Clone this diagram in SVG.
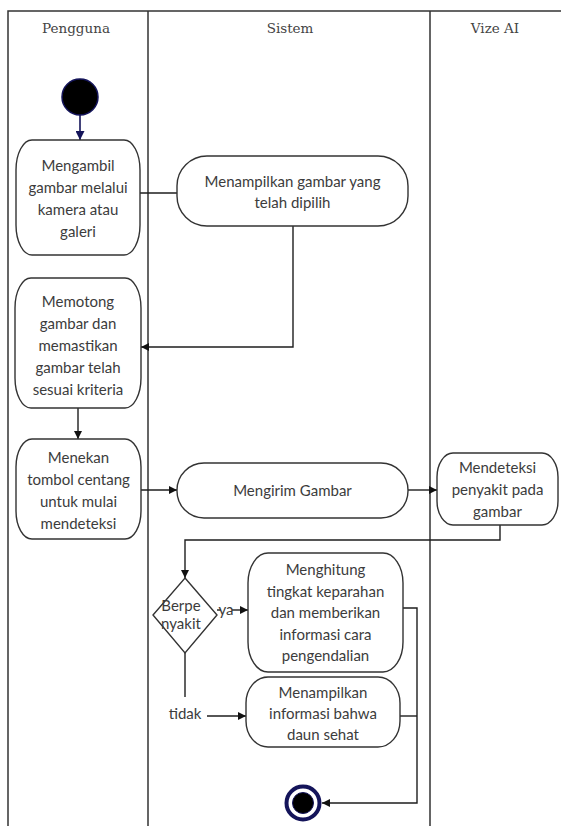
<svg xmlns="http://www.w3.org/2000/svg" width="561" height="826" viewBox="0 0 561 826">
<style>
.lane{stroke:#333;stroke-width:1.5;fill:none}
.hdr{font-family:"DejaVu Serif","Liberation Serif",serif;font-size:13.5px;fill:#444;text-anchor:middle}
.node{fill:#fff;stroke:#333;stroke-width:1.4}
.t{font-family:Lato,"Open Sans",sans-serif;font-size:15px;fill:#3c3c3c;text-anchor:middle;dominant-baseline:central}
.c{stroke:#1e1e1e;stroke-width:1.4;fill:none}
</style>
<defs>
<marker id="ah" viewBox="0 0 10 10" refX="10" refY="5" markerWidth="8" markerHeight="8" markerUnits="userSpaceOnUse" orient="auto">
<path d="M0,0 L10,5 L0,10 z" fill="#111"/>
</marker>
<marker id="ahn" viewBox="0 0 10 10" refX="10" refY="5" markerWidth="9" markerHeight="9" markerUnits="userSpaceOnUse" orient="auto">
<path d="M0,0 L10,5 L0,10 z" fill="#14145a"/>
</marker>
</defs>
<rect width="561" height="826" fill="#fff"/>
<g id="lanes">
<path class="lane" d="M8,826 V11 H561 M148,11 V826 M430,11 V826"/>
<text class="hdr" x="76" y="33">Pengguna</text>
<text class="hdr" x="290" y="33">Sistem</text>
<text class="hdr" x="495" y="33">Vize AI</text>
</g>
<g id="connectors">
<path d="M80,115 V140" stroke="#14145a" stroke-width="1.6" fill="none" marker-end="url(#ahn)"/>
<path class="c" d="M140,193 H177"/>
<path class="c" d="M293,226 V347 H141" marker-end="url(#ah)"/>
<path class="c" d="M78,408 V439" marker-end="url(#ah)"/>
<path class="c" d="M141,490 H177" marker-end="url(#ah)"/>
<path class="c" d="M408,490 H437" marker-end="url(#ah)"/>
<path class="c" d="M500,525 V540 H185 V578" marker-end="url(#ah)"/>
<path class="c" d="M217,610 H221"/>
<path class="c" d="M232,610 H248" marker-end="url(#ah)"/>
<path class="c" d="M185,653 V697"/>
<path class="c" d="M207,716 H246" marker-end="url(#ah)"/>
<path class="c" d="M403,608 H417 V803 H322" marker-end="url(#ah)"/>
<path class="c" d="M400,716 H417"/>
<text class="t" x="226" y="609">ya</text>
<text class="t" x="185" y="713">tidak</text>
</g>
<g id="start">
<circle cx="80" cy="97" r="18" fill="#000" stroke="#14145a" stroke-width="1.5"/>
</g>
<g id="n1">
<rect class="node" x="16" y="140" width="124" height="115" rx="16" ry="30"/>
<text class="t" x="78" y="164.5">Mengambil</text>
<text class="t" x="78" y="186.5">gambar melalui</text>
<text class="t" x="78" y="208.5">kamera atau</text>
<text class="t" x="78" y="230.5">galeri</text>
</g>
<g id="n2">
<rect class="node" x="177" y="156" width="231" height="70" rx="30" ry="30"/>
<text class="t" x="292.5" y="181">Menampilkan gambar yang</text>
<text class="t" x="292.5" y="202">telah dipilih</text>
</g>
<g id="n3">
<rect class="node" x="15" y="278" width="126" height="130" rx="16" ry="30"/>
<text class="t" x="78" y="301">Memotong</text>
<text class="t" x="78" y="323">gambar dan</text>
<text class="t" x="78" y="345">memastikan</text>
<text class="t" x="78" y="367">gambar telah</text>
<text class="t" x="78" y="389">sesuai kriteria</text>
</g>
<g id="n4">
<rect class="node" x="16" y="439" width="125" height="100" rx="16" ry="28"/>
<text class="t" x="78.5" y="457">Menekan</text>
<text class="t" x="78.5" y="479">tombol centang</text>
<text class="t" x="78.5" y="501">untuk mulai</text>
<text class="t" x="78.5" y="523">mendeteksi</text>
</g>
<g id="n5">
<rect class="node" x="177" y="463" width="231" height="55" rx="27" ry="27"/>
<text class="t" x="292.5" y="490">Mengirim Gambar</text>
</g>
<g id="n6">
<rect class="node" x="437" y="453" width="121" height="72" rx="16" ry="24"/>
<text class="t" x="497.5" y="467">Mendeteksi</text>
<text class="t" x="497.5" y="489">penyakit pada</text>
<text class="t" x="497.5" y="511">gambar</text>
</g>
<g id="decision">
<path class="node" d="M185,578 L217,615 L185,653 L153,615 Z"/>
<text class="t" x="181" y="605">Berpe</text>
<text class="t" x="181" y="623">nyakit</text>
</g>
<g id="n7">
<rect class="node" x="248" y="553" width="155" height="119" rx="20" ry="30"/>
<text class="t" x="325.5" y="569">Menghitung</text>
<text class="t" x="325.5" y="590.5">tingkat keparahan</text>
<text class="t" x="325.5" y="612">dan memberikan</text>
<text class="t" x="325.5" y="633.5">informasi cara</text>
<text class="t" x="325.5" y="655">pengendalian</text>
</g>
<g id="n8">
<rect class="node" x="246" y="677" width="154" height="70" rx="22" ry="26"/>
<text class="t" x="323" y="692">Menampilkan</text>
<text class="t" x="323" y="713">informasi bahwa</text>
<text class="t" x="323" y="734">daun sehat</text>
</g>
<g id="end">
<circle cx="303" cy="803" r="16.5" fill="#fff" stroke="#14145a" stroke-width="4"/>
<circle cx="303" cy="803" r="10.5" fill="#000" stroke="#14145a" stroke-width="1"/>
</g>
</svg>
